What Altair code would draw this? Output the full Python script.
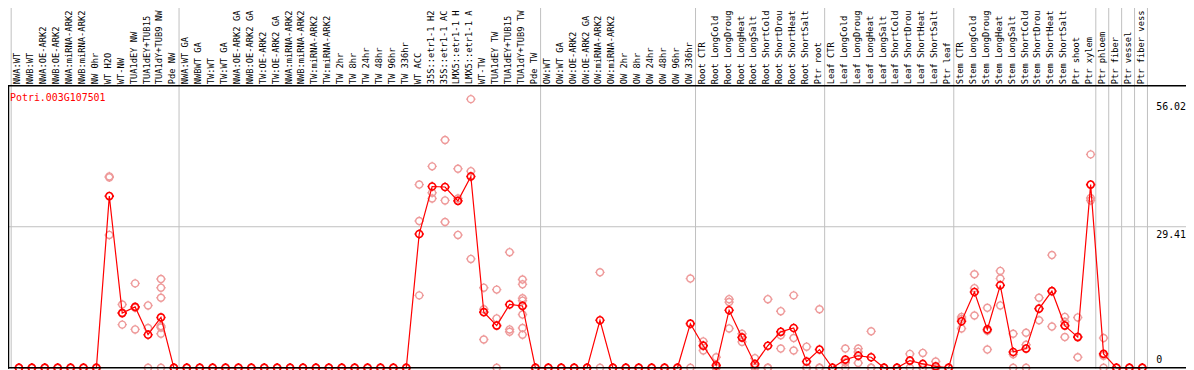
import altair as alt
import pandas as pd

# ---------------- data ----------------
categories = [
    "NWA:WT", "NWB:WT", "NWA:OE-ARK2", "NWB:OE-ARK2", "NWA:miRNA-ARK2", "NWB:miRNA-ARK2",
    "NW 0hr", "WT H2O", "WT-NW", "TUA1dEY NW", "TUA1dEY+TUB15", "TUA1dY+TUB9 NW", "Pde NW",
    "NWA:WT GA", "NWBWT GA", "TW:WT", "TW:WT GA", "NWA:OE-ARK2 GA", "NWB:OE-ARK2 GA",
    "TW:OE-ARK2", "TW:OE-ARK2 GA", "NWA:miRNA-ARK2", "NWB:miRNA-ARK2", "TW:miRNA-ARK2",
    "TW:miRNA-ARK2", "TW 2hr", "TW 8hr", "TW 24hr", "TW 48hr", "TW 96hr", "TW 336hr",
    "WT ACC", "35S::etr1-1 H2", "35S::etr1-1 AC", "LMX5::etr1-1 H", "LMX5::etr1-1 A",
    "WT-TW", "TUA1dEY TW", "TUA1dEY+TUB15", "TUA1dY+TUB9 TW", "Pde TW",
    "OW:WT", "OW:WT GA", "OW:OE-ARK2", "OW:OE-ARK2 GA", "OW:miRNA-ARK2", "OW:miRNA-ARK2",
    "OW 2hr", "OW 8hr", "OW 24hr", "OW 48hr", "OW 96hr", "OW 336hr",
    "Root CTR", "Root LongCold", "Root LongDroug", "Root LongHeat", "Root LongSalt",
    "Root ShortCold", "Root ShortDrou", "Root ShortHeat", "Root ShortSalt", "Ptr root",
    "Leaf CTR", "Leaf LongCold", "Leaf LongDroug", "Leaf LongHeat", "Leaf LongSalt",
    "Leaf ShortCold", "Leaf ShortDrou", "Leaf ShortHeat", "Leaf ShortSalt", "Ptr leaf",
    "Stem CTR", "Stem LongCold", "Stem LongDroug", "Stem LongHeat", "Stem LongSalt",
    "Stem ShortCold", "Stem ShortDrou", "Stem ShortHeat", "Stem ShortSalt", "Ptr shoot",
    "Ptr xylem", "Ptr phloem", "Ptr fiber", "Ptr vessel", "Ptr fiber vess",
]

group_sizes = [13, 28, 12, 10, 10, 11, 1, 1, 1, 1]

means = [
    0, 0, 0, 0, 0, 0, 0, 35.8, 11.4, 12.7, 6.9, 10.5, 0,
    0, 0, 0, 0, 0, 0, 0, 0, 0, 0, 0, 0, 0, 0, 0, 0, 0, 0,
    27.9, 37.8, 37.7, 34.8, 39.9, 11.6, 8.8, 13.2, 12.9, 0,
    0, 0, 0, 0, 9.9, 0, 0, 0, 0, 0, 0, 9.2,
    4.6, 0.5, 12.0, 6.3, 0.8, 4.6, 7.5, 8.3, 1.3, 3.8,
    0, 1.7, 2.5, 2.2, 0, 0, 1.5, 0.8, 0.3, 0,
    9.7, 15.8, 8.0, 17.2, 3.3, 4.0, 12.3, 16.0, 8.8, 6.4, 38.2,
    2.9, 0, 0, 0,
]

Z = [0, 0, 0]
replicates = [
    Z, Z, Z, Z, Z, Z, Z,
    [39.9, 39.7, 27.7], [13.2, 11.5, 9.0], [17.6, 12.5, 8.0], [13.0, 8.3, 0],
    [18.5, 16.7, 14.6, 8.7, 8.4, 7.1, 0], Z,
    Z, Z, Z, Z, Z, Z, Z, Z, Z, Z, Z, Z, Z, Z, Z, Z, Z, Z,
    [38.2, 30.6, 15.1], [42.0, 36.5, 35.3], [47.5, 34.9, 30.4], [41.5, 35.3, 27.7],
    [56.02, 41.0, 22.7], [16.7, 12.2, 5.9], [16.3, 10.3, 0], [24.1, 8.0, 7.5],
    [18.4, 17.4, 14.5, 14.0, 11.1, 8.3, 6.9], Z,
    Z, Z, Z, Z, [19.9, 0], Z, Z, Z, Z, Z, Z, [18.6, 0],
    [5.5, 4.7, 3.6], [2.2, 0, 0], [14.3, 13.7, 8.2], [7.1, 6.4, 5.4], [2.0, 0.4, 0],
    [14.3, 0, 0], [11.8, 6.8, 4.0], [15.1, 6.2, 3.6], [4.4, 0, 0], [12.2, 0, 0],
    Z, [4.0, 1.1, 0], [4.0, 3.3, 1.0], [7.6, 0, 0], Z, Z, [2.9, 1.5, 0], [3.1, 0, 0],
    [1.3, 0, 0], Z,
    [10.6, 10.2, 8.2], [19.5, 16.6, 10.9], [12.5, 7.7, 3.8], [20.2, 18.6, 13.0],
    [7.1, 2.8, 0], [7.3, 4.8, 0], [14.6, 12.4, 9.9], [23.5, 15.9, 8.6],
    [10.6, 9.6, 6.4], [10.5, 6.5, 2.2], [44.5, 35.4, 34.9],
    [6.2, 2.5, 0], Z, Z, Z,
]

gene_id = "Potri.003G107501"
y_max = 58.82
y_labels = [56.02, 29.41]
y_zero_label = [0]
grid_values = [29.41]

# ---------------- tables ----------------
n = len(categories)
df_means = pd.DataFrame({"idx": list(range(n)), "cat": categories, "mean": means})
rep_rows = [{"idx": i, "val": v} for i, reps in enumerate(replicates) for v in reps]
df_reps = pd.DataFrame(rep_rows)

bounds = []
start = 0
for g in group_sizes:
    bounds.append(start - 0.6)
    start += g
bounds.append(start - 1 + 0.4)
df_vgrid = pd.DataFrame({"pos": bounds})

FONT = "DejaVu Sans Mono"
xs = alt.Scale(domain=[0, n - 1], range=[19, 1150])
ys = alt.Scale(domain=[0, y_max], range=[369, 85])

symbol = ("M-0.75,0A0.75,0.75 0 1,0 0.75,0A0.75,0.75 0 1,0 -0.75,0"
          "M0,-0.75L0,-1M0,0.75L0,1M-0.75,0L-1,0M0.75,0L1,0")

vgrid = alt.Chart(df_vgrid).mark_rule(color="#c0c0c0", strokeWidth=1).encode(
    x=alt.X("pos:Q", scale=xs, axis=None), y=alt.value(0), y2=alt.value(370))

hgrid = alt.Chart(pd.DataFrame({"v": grid_values})).mark_rule(
    color="#c0c0c0", strokeWidth=1).encode(
    y=alt.Y("v:Q", scale=ys, axis=None), x=alt.value(1), x2=alt.value(1194))

top_line = alt.Chart(pd.DataFrame({"v": [y_max]})).mark_rule(
    color="black", strokeWidth=1.5).encode(
    y=alt.Y("v:Q", scale=ys, axis=None), x=alt.value(0), x2=alt.value(1194))

bottom_line = alt.Chart(pd.DataFrame({"v": [0]})).mark_rule(
    color="black", strokeWidth=1.5).encode(
    y=alt.Y("v:Q", scale=ys, axis=None), x=alt.value(0), x2=alt.value(1194))

left_line = alt.Chart(pd.DataFrame({"v": [0]})).mark_rule(
    color="black", strokeWidth=1.5).encode(
    x=alt.value(8.5), y=alt.value(85), y2=alt.value(370))

rep_pts = alt.Chart(df_reps).mark_point(
    shape=symbol, size=90, color="#ee9a9a", strokeWidth=1.4, filled=False, opacity=1).encode(
    x=alt.X("idx:Q", scale=xs, axis=None), y=alt.Y("val:Q", scale=ys, axis=None))

line = alt.Chart(df_means).mark_line(color="red", strokeWidth=1.2).encode(
    x=alt.X("idx:Q", scale=xs, axis=None), y=alt.Y("mean:Q", scale=ys, axis=None))

mean_pts = alt.Chart(df_means).mark_point(
    shape=symbol, size=90, color="red", strokeWidth=1.6, filled=False, opacity=1).encode(
    x=alt.X("idx:Q", scale=xs, axis=None), y=alt.Y("mean:Q", scale=ys, axis=None))

header = alt.Chart(df_means).mark_text(
    angle=270, align="left", baseline="middle", font=FONT, fontSize=8.8,
    color="black", dy=-1.5).encode(
    x=alt.X("idx:Q", scale=xs, axis=None), y=alt.value(83.5), text="cat:N")

title = alt.Chart(pd.DataFrame({"t": [gene_id]})).mark_text(
    align="left", baseline="middle", font=FONT, fontSize=10, color="red").encode(
    x=alt.value(10), y=alt.value(97), text="t:N")

ylab = alt.Chart(pd.DataFrame({"v": y_labels, "t": [f"{v:.2f}" for v in y_labels]})).mark_text(
    align="left", baseline="top", font=FONT, fontSize=10, color="black", dy=3).encode(
    x=alt.value(1164), y=alt.Y("v:Q", scale=ys, axis=None), text="t:N")

ylab0 = alt.Chart(pd.DataFrame({"v": y_zero_label, "t": ["0"]})).mark_text(
    align="left", baseline="bottom", font=FONT, fontSize=10, color="black", dy=-3).encode(
    x=alt.value(1164), y=alt.Y("v:Q", scale=ys, axis=None), text="t:N")

chart = alt.layer(
    vgrid, hgrid, rep_pts, line, mean_pts, top_line, bottom_line, left_line,
    header, title, ylab, ylab0,
).properties(
    width=1194, height=370, autosize="none",
    padding={"left": -8, "top": -8, "right": 0, "bottom": 0},
    background="white",
).configure_view(stroke=None)

chart.save("out.html", embed_options={"renderer": "svg", "actions": False})
